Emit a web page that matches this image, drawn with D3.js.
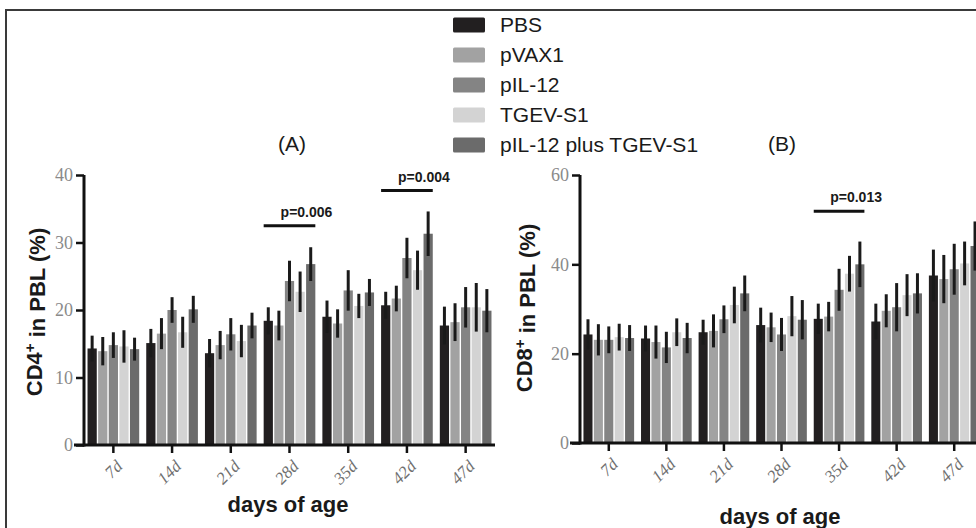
<!DOCTYPE html>
<html>
<head>
<meta charset="utf-8">
<script src="https://cdn.jsdelivr.net/npm/d3@7"></script>
<style>
  body { margin: 0; background: #fff; }
  svg { display: block; }
</style>
</head>
<body>
<svg class="chart" width="976" height="528"></svg>
<script>
// ---- data ----
const days = ["7d", "14d", "21d", "28d", "35d", "42d", "47d"];
const treatments = ["PBS", "pVAX1", "pIL-12", "TGEV-S1", "pIL-12 plus TGEV-S1"];
const treatmentColors = ["#221f20", "#a2a2a2", "#848484", "#d3d3d3", "#6b6b6b"];

// CD4+ (%) per treatment, one value per day
const cd4PBS   = [14.3, 15.1, 13.6, 18.4, 19.0, 20.7, 17.7];
const cd4PVAX1 = [13.9, 16.5, 14.8, 17.7, 18.0, 21.7, 18.2];
const cd4PIL12 = [14.8, 20.0, 16.4, 24.3, 22.9, 27.7, 20.4];
const cd4TGEV  = [14.6, 16.7, 15.4, 22.7, 20.6, 25.9, 20.4];
const cd4Plus  = [14.2, 20.1, 17.7, 26.8, 22.6, 31.3, 19.9];
const cd4ErrPBS   = [1.9, 2.1, 2.1, 2.0, 2.4, 2.0, 2.8];
const cd4ErrPVAX1 = [2.1, 2.3, 2.1, 2.2, 2.1, 1.9, 2.8];
const cd4ErrPIL12 = [1.9, 1.9, 2.4, 3.0, 3.0, 3.0, 3.0];
const cd4ErrTGEV  = [2.4, 2.3, 2.4, 3.0, 1.8, 2.9, 3.6];
const cd4ErrPlus  = [1.7, 2.0, 1.9, 2.5, 2.0, 3.3, 3.2];

// CD8+ (%)
const cd8PBS   = [24.3, 23.4, 24.8, 26.4, 27.8, 27.2, 37.5];
const cd8PVAX1 = [23.1, 22.6, 25.1, 25.9, 28.3, 29.6, 36.7];
const cd8PIL12 = [23.1, 21.4, 27.7, 24.3, 34.3, 30.4, 38.9];
const cd8TGEV  = [23.7, 24.8, 30.9, 28.4, 37.9, 33.1, 40.2];
const cd8Plus  = [23.5, 23.5, 33.5, 27.6, 40.0, 33.5, 44.1];
const cd8ErrPBS   = [3.4, 2.9, 2.8, 3.9, 3.4, 4.0, 5.8];
const cd8ErrPVAX1 = [3.5, 3.7, 3.7, 3.3, 3.3, 3.7, 5.4];
const cd8ErrPIL12 = [3.0, 3.5, 3.1, 3.7, 4.7, 5.4, 5.7];
const cd8ErrTGEV  = [3.0, 3.1, 4.1, 4.5, 4.0, 4.7, 4.9];
const cd8ErrPlus  = [2.9, 3.4, 4.0, 4.4, 5.1, 4.5, 5.5];

const cd4Ticks = [0, 10, 20, 30, 40];
const cd8Ticks = [0, 20, 40, 60];

// significance brackets: day, label, bracket level (in % units)
const cd4Pvals = [{ day: "28d", label: "p=0.006", level: 32.5 },
                  { day: "42d", label: "p=0.004", level: 37.7 }];
const cd8Pvals = [{ day: "35d", label: "p=0.013", level: 51.9 }];

const svg = d3.select(".chart");

// frame
svg.append("path")
    .attr("d", "M6,528 V10 H976")
    .attr("fill", "none")
    .attr("stroke", "#3a3a3a")
    .attr("stroke-width", 2);

const makeRows = (means, errs) => days.map((day, i) => ({
    day,
    values: treatments.map((t, j) => ({ t, j, v: means[j][i], e: errs[j][i] }))
}));

const drawPanel = (opt) => {
    const g = svg.append("g");
    const yScale = d3.scaleLinear().domain(opt.domain).range([opt.bottom, opt.top]);
    const x0 = d3.scaleBand().domain(days).range(opt.xRange)
        .paddingInner(0.12).paddingOuter(0.06);
    const x1 = d3.scaleBand().domain(d3.range(treatments.length))
        .range([0, x0.bandwidth()]).paddingInner(0.13);

    const groups = g.selectAll("g.day")
        .data(opt.rows)
        .join("g")
        .attr("class", "day")
        .attr("transform", d => `translate(${x0(d.day)},0)`);

    groups.selectAll("rect")
        .data(d => d.values)
        .join("rect")
        .attr("x", d => x1(d.j))
        .attr("width", x1.bandwidth())
        .attr("y", d => yScale(d.v))
        .attr("height", d => opt.bottom - yScale(d.v))
        .attr("fill", d => treatmentColors[d.j]);

    groups.selectAll("line.err")
        .data(d => d.values)
        .join("line")
        .attr("class", "err")
        .attr("x1", d => x1(d.j) + x1.bandwidth() / 2)
        .attr("x2", d => x1(d.j) + x1.bandwidth() / 2)
        .attr("y1", d => yScale(d.v - d.e))
        .attr("y2", d => yScale(d.v + d.e))
        .attr("stroke", "#1a1a1a")
        .attr("stroke-width", 3);

    // axes
    const yAxis = g.append("g")
        .attr("transform", `translate(${opt.xRange[0]},0)`)
        .call(d3.axisLeft(yScale).tickValues(opt.ticks).tickSize(8).tickPadding(3));
    yAxis.select(".domain").attr("stroke", "#111").attr("stroke-width", 3)
        .attr("d", `M0,${opt.bottom + 1.5}V${opt.top}`);
    yAxis.selectAll(".tick line").attr("stroke", "#111").attr("stroke-width", 2.5);
    yAxis.selectAll(".tick text")
        .attr("fill", "#8a8a8a")
        .style("font-family", "'Liberation Serif', 'DejaVu Serif', serif")
        .style("font-size", "18px");

    const xAxis = g.append("g")
        .attr("transform", `translate(0,${opt.bottom})`)
        .call(d3.axisBottom(x0).tickSize(8).tickSizeOuter(0).tickFormat(""));
    xAxis.select(".domain").attr("stroke", "#111").attr("stroke-width", 3)
        .attr("d", `M${opt.xRange[0] - 10},0H${opt.xRange[1]}`);
    xAxis.selectAll(".tick line").attr("stroke", "#111").attr("stroke-width", 2.5);

    g.selectAll("text.day-label")
        .data(days)
        .join("text")
        .attr("class", "day-label")
        .attr("transform", d => `translate(${x0(d) + x0.bandwidth() / 2 + 6},${opt.bottom + 18}) rotate(-45)`)
        .attr("text-anchor", "end")
        .attr("dy", "0.35em")
        .attr("fill", "#6f6f6f")
        .style("font-family", "'Liberation Serif', 'DejaVu Serif', serif")
        .style("font-style", "italic")
        .style("font-size", "17px")
        .text(d => d);

    // axis titles
    const yt = g.append("text")
        .attr("transform", `translate(${opt.yTitleX},${opt.yTitleY}) rotate(-90)`)
        .attr("text-anchor", "middle")
        .attr("fill", "#1a1a1a")
        .style("font-family", "'Liberation Sans', Arial, sans-serif")
        .style("font-weight", "bold")
        .style("font-size", "22px");
    yt.append("tspan").text(opt.cell);
    yt.append("tspan").attr("dy", "-0.45em").style("font-size", "15px").text("+");
    yt.append("tspan").attr("dy", "0.45em").text(" in PBL (%)");

    g.append("text")
        .attr("x", opt.xTitleX)
        .attr("y", opt.xTitleY)
        .attr("text-anchor", "middle")
        .attr("fill", "#1a1a1a")
        .style("font-family", "'Liberation Sans', Arial, sans-serif")
        .style("font-weight", "bold")
        .style("font-size", "22px")
        .text("days of age");

    g.append("text")
        .attr("x", opt.titleX)
        .attr("y", 151)
        .attr("text-anchor", "middle")
        .attr("fill", "#1a1a1a")
        .style("font-family", "'Liberation Sans', Arial, sans-serif")
        .style("font-size", "21px")
        .text(opt.title);

    // p-value brackets
    opt.pvals.forEach(p => {
        const xa = x0(p.day), xb = x0(p.day) + x0.bandwidth();
        g.append("line")
            .attr("x1", xa).attr("x2", xb)
            .attr("y1", yScale(p.level)).attr("y2", yScale(p.level))
            .attr("stroke", "#111").attr("stroke-width", 3);
        g.append("text")
            .attr("x", (xa + xb) / 2 + 17)
            .attr("y", yScale(p.level) - 9)
            .attr("text-anchor", "middle")
            .attr("fill", "#1a1a1a")
            .style("font-family", "'Liberation Sans', Arial, sans-serif")
            .style("font-weight", "bold")
            .style("font-size", "14px")
            .text(p.label);
    });
};

drawPanel({
    rows: makeRows([cd4PBS, cd4PVAX1, cd4PIL12, cd4TGEV, cd4Plus],
                   [cd4ErrPBS, cd4ErrPVAX1, cd4ErrPIL12, cd4ErrTGEV, cd4ErrPlus]),
    domain: [0, 40], ticks: cd4Ticks, top: 175, bottom: 445,
    xRange: [84, 495], cell: "CD4",
    yTitleX: 42, yTitleY: 312, xTitleX: 288, xTitleY: 512,
    titleX: 292, title: "(A)", pvals: cd4Pvals
});

drawPanel({
    rows: makeRows([cd8PBS, cd8PVAX1, cd8PIL12, cd8TGEV, cd8Plus],
                   [cd8ErrPBS, cd8ErrPVAX1, cd8ErrPIL12, cd8ErrTGEV, cd8ErrPlus]),
    domain: [0, 60], ticks: cd8Ticks, top: 175, bottom: 443,
    xRange: [580, 983], cell: "CD8",
    yTitleX: 532, yTitleY: 308, xTitleX: 780, xTitleY: 524,
    titleX: 782, title: "(B)", pvals: cd8Pvals
});

// legend
const legend = svg.append("g").attr("transform", "translate(453,0)");
const item = legend.selectAll("g")
    .data(treatments)
    .join("g")
    .attr("transform", (d, i) => `translate(0,${25 + i * 30})`);
item.append("rect")
    .attr("x", 0).attr("y", -7.5)
    .attr("width", 32).attr("height", 15)
    .attr("rx", 1.5)
    .attr("fill", (d, i) => treatmentColors[i]);
item.append("text")
    .attr("x", 47)
    .attr("dy", "0.35em")
    .attr("fill", "#1a1a1a")
    .style("font-family", "'Liberation Sans', Arial, sans-serif")
    .style("font-size", "21px")
    .text(d => d);
</script>
</body>
</html>
